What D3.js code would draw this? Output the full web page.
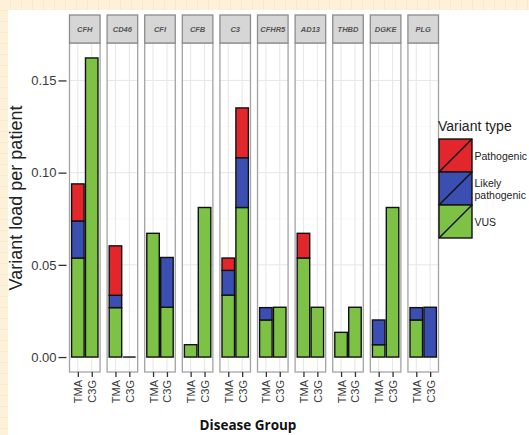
<!DOCTYPE html>
<html>
<head>
<meta charset="utf-8">
<script src="https://cdn.jsdelivr.net/npm/d3@7"></script>
<style>
  html, body { margin: 0; padding: 0; background: #fdf2d9; }
  svg { display: block; }
</style>
</head>
<body>
<svg id="chart" width="529" height="435"></svg>
<script>
// Genes shown as facets, left to right
const genes = ["CFH", "CD46", "CFI", "CFB", "C3", "CFHR5", "AD13", "THBD", "DGKE", "PLG"];
const groups = ["TMA", "C3G"];
const variantTypes = ["VUS", "Likely pathogenic", "Pathogenic"];

// Variant load per patient, one array per group/variant type (in gene order)
const tmaVUS        = [0.0537, 0.0268, 0.0671, 0.0067, 0.0336, 0.0201, 0.0537, 0.0134, 0.0067, 0.0201];
const tmaLikely     = [0.0201, 0.0067, 0.0000, 0.0000, 0.0134, 0.0067, 0.0000, 0.0000, 0.0134, 0.0067];
const tmaPathogenic = [0.0201, 0.0268, 0.0000, 0.0000, 0.0067, 0.0000, 0.0134, 0.0000, 0.0000, 0.0000];
const c3gVUS        = [0.1622, 0.0000, 0.0270, 0.0811, 0.0811, 0.0270, 0.0270, 0.0270, 0.0811, 0.0000];
const c3gLikely     = [0.0000, 0.0000, 0.0270, 0.0000, 0.0270, 0.0000, 0.0000, 0.0000, 0.0000, 0.0270];
const c3gPathogenic = [0.0000, 0.0000, 0.0000, 0.0000, 0.0270, 0.0000, 0.0000, 0.0000, 0.0000, 0.0000];

const yTicks = [0.00, 0.05, 0.10, 0.15];
const yMinor = [0.025, 0.075, 0.125];

const colors = { "Pathogenic": "#e3262b", "Likely pathogenic": "#3b4fb3", "VUS": "#7dc245" };

const svg = d3.select("#chart");
const font = "'Liberation Sans', Arial, sans-serif";

// Page backdrop: cream paper with a faint grid, white sheet on top
const defs = svg.append("defs");
const pat = defs.append("pattern").attr("id", "paper").attr("width", 11).attr("height", 11)
  .attr("patternUnits", "userSpaceOnUse");
pat.append("rect").attr("width", 11).attr("height", 11).attr("fill", "#fdf2d9");
pat.append("path").attr("d", "M11 0 V11 M0 11 H11").attr("stroke", "#f6e2b6").attr("stroke-width", 1);
svg.append("rect").attr("width", 529).attr("height", 435).attr("fill", "url(#paper)");
svg.append("rect").attr("x", 8).attr("y", 10).attr("width", 521).attr("height", 425).attr("fill", "#ffffff");

// Build stacked rows
const rows = genes.map((g, i) => ({
  gene: g,
  TMA: { "VUS": tmaVUS[i], "Likely pathogenic": tmaLikely[i], "Pathogenic": tmaPathogenic[i] },
  C3G: { "VUS": c3gVUS[i], "Likely pathogenic": c3gLikely[i], "Pathogenic": c3gPathogenic[i] }
}));
const stack = d3.stack().keys(variantTypes);

// Layout
const panelLeft0 = 69.5, panelStep = 36.9, panelW = 30;
const stripTop = 15, stripH = 28;
const plotTop = 43, plotBottom = 372;

const maxTotal = d3.max(rows, r => d3.max(groups, gr => d3.sum(variantTypes, k => r[gr][k])));
const pad = maxTotal * 0.05;
const y = d3.scaleLinear().domain([-pad, maxTotal + pad]).range([plotBottom, plotTop]);

const facet = d3.scaleBand().domain(genes)
  .range([panelLeft0, panelLeft0 + panelStep * genes.length]).paddingInner(1 - panelW / panelStep).paddingOuter(0);
const realW = facet.bandwidth();

rows.forEach(r => {
  const left = facet(r.gene);
  const x = d3.scalePoint().domain(groups).range([left, left + realW]).padding(0.6);
  const step = x.step();
  const bw = step * 0.9;
  const g = svg.append("g");

  // panel background and grid
  g.append("rect").attr("x", left).attr("y", plotTop).attr("width", realW).attr("height", plotBottom - plotTop)
    .attr("fill", "#ffffff");
  g.selectAll(".minor").data(yMinor).join("line")
    .attr("x1", left).attr("x2", left + realW).attr("y1", d => y(d)).attr("y2", d => y(d))
    .attr("stroke", "#f4f4f4").attr("stroke-width", 0.6);
  g.selectAll(".major").data(yTicks).join("line")
    .attr("x1", left).attr("x2", left + realW).attr("y1", d => y(d)).attr("y2", d => y(d))
    .attr("stroke", "#e8e8e8").attr("stroke-width", 1.1);
  g.selectAll(".vgrid").data(groups).join("line")
    .attr("x1", d => x(d)).attr("x2", d => x(d)).attr("y1", plotTop).attr("y2", plotBottom)
    .attr("stroke", "#e8e8e8").attr("stroke-width", 1.1);

  // stacked bars
  groups.forEach(gr => {
    const series = stack([r[gr]]);
    series.forEach(s => {
      const seg = s[0];
      if (seg[1] - seg[0] <= 0) return;
      g.append("rect")
        .attr("x", x(gr) - bw / 2).attr("width", bw)
        .attr("y", y(seg[1])).attr("height", y(seg[0]) - y(seg[1]))
        .attr("fill", colors[s.key]).attr("stroke", "#111").attr("stroke-width", 1.4);
    });
    // zero-height bar still shows its outline
    if (d3.sum(variantTypes, k => r[gr][k]) === 0) {
      g.append("line").attr("x1", x(gr) - bw / 2).attr("x2", x(gr) + bw / 2)
        .attr("y1", y(0)).attr("y2", y(0)).attr("stroke", "#111").attr("stroke-width", 1.4);
    }
  });

  // panel border
  g.append("rect").attr("x", left).attr("y", plotTop).attr("width", realW).attr("height", plotBottom - plotTop)
    .attr("fill", "none").attr("stroke", "#a3a3a3").attr("stroke-width", 1.3);

  // strip
  g.append("rect").attr("x", left).attr("y", stripTop).attr("width", realW).attr("height", stripH)
    .attr("fill", "#d6d6d6").attr("stroke", "#8c8c8c").attr("stroke-width", 1.3);
  g.append("text").attr("x", left + realW / 2).attr("y", stripTop + stripH / 2 + 2.7)
    .attr("text-anchor", "middle").attr("font-family", font).attr("font-style", "italic")
    .attr("font-weight", 700).attr("font-size", 7.5).attr("fill", "#555").text(r.gene);

  // x axis ticks and labels
  const ax = g.append("g").attr("transform", `translate(0,${plotBottom})`)
    .call(d3.axisBottom(x).tickSize(5).tickSizeOuter(0).tickPadding(3));
  ax.select(".domain").remove();
  ax.selectAll(".tick line").attr("stroke", "#333").attr("stroke-width", 1.3);
  ax.selectAll(".tick text")
    .attr("font-family", font).attr("font-size", 11).attr("fill", "#3a3a3a")
    .attr("text-anchor", "end").attr("dy", null)
    .attr("transform", "translate(0,2) rotate(-90)")
    .attr("x", -6).attr("y", 0).attr("dominant-baseline", "central");
});

// y axis
const yAxis = svg.append("g").attr("transform", `translate(${panelLeft0},0)`)
  .call(d3.axisLeft(y).tickValues(yTicks).tickFormat(d3.format(".2f")).tickSize(9).tickPadding(3));
yAxis.select(".domain").remove();
yAxis.selectAll(".tick line").attr("stroke", "#333").attr("stroke-width", 1.3).attr("x2", -3).attr("x1", -11);
yAxis.selectAll(".tick text").attr("font-family", font).attr("font-size", 13).attr("fill", "#3a3a3a")
  .attr("x", -13);

// y title
svg.append("text").attr("transform", "translate(22,198) rotate(-90)")
  .attr("text-anchor", "middle").attr("font-family", font).attr("font-size", 18).attr("fill", "#222")
  .text("Variant load per patient");

// x title
svg.append("text").attr("x", 248).attr("y", 430).attr("text-anchor", "middle")
  .attr("font-family", "'Open Sans', sans-serif").attr("font-weight", 700).attr("font-size", 13.5)
  .attr("fill", "#111").text("Disease Group");

// legend
const lg = svg.append("g").attr("transform", "translate(439,0)");
lg.append("text").attr("x", -1).attr("y", 131).attr("font-family", font).attr("font-size", 14)
  .attr("fill", "#222").text("Variant type");
const legendOrder = ["Pathogenic", "Likely pathogenic", "VUS"];
const keyY = d3.scaleBand().domain(legendOrder).range([139, 238]);
const ks = keyY.bandwidth();
legendOrder.forEach(k => {
  const ky = keyY(k);
  lg.append("rect").attr("x", 0).attr("y", ky).attr("width", ks).attr("height", ks)
    .attr("fill", colors[k]).attr("stroke", "#111").attr("stroke-width", 1.4);
  lg.append("line").attr("x1", 0).attr("y1", ky + ks).attr("x2", ks).attr("y2", ky)
    .attr("stroke", "#111").attr("stroke-width", 1.4);
  const t = lg.append("text").attr("x", ks + 2.5).attr("font-family", font).attr("font-size", 10.5)
    .attr("fill", "#222");
  if (k === "Likely pathogenic") {
    t.append("tspan").attr("x", ks + 2.5).attr("y", ky + ks / 2 - 2).text("Likely");
    t.append("tspan").attr("x", ks + 2.5).attr("y", ky + ks / 2 + 10).text("pathogenic");
  } else {
    t.attr("y", ky + ks / 2 + 4).text(k);
  }
});
</script>
</body>
</html>
